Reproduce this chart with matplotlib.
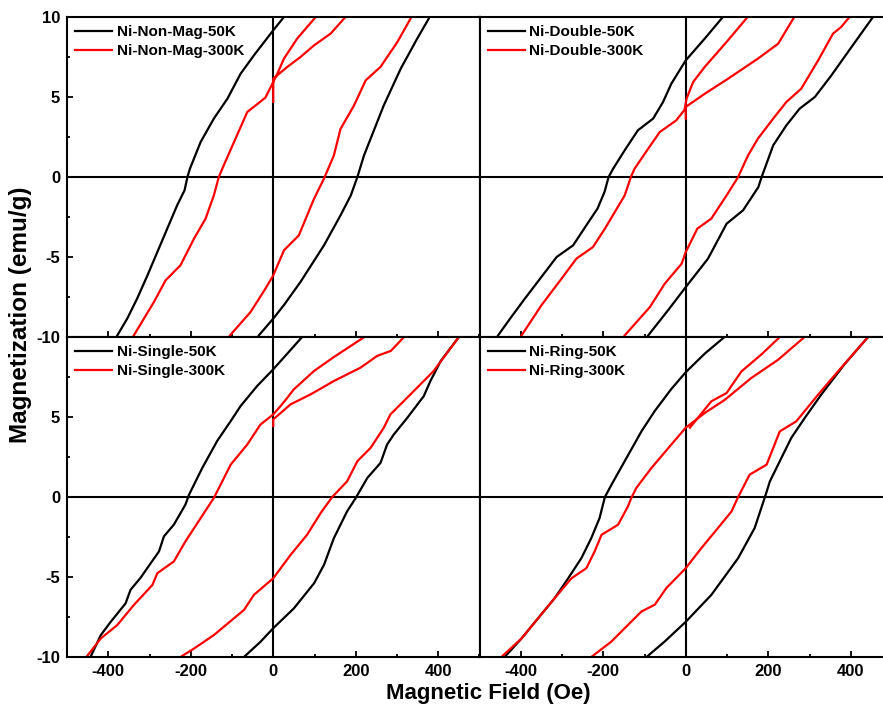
import numpy as np
import matplotlib
matplotlib.use("Agg")
import matplotlib.pyplot as plt
from matplotlib.ticker import MultipleLocator

plt.rcParams["font.family"] = ["Liberation Sans", "DejaVu Sans"]
plt.rcParams["font.weight"] = "bold"
plt.rcParams["axes.unicode_minus"] = False

nan = np.nan

# ---- Ni-Non-Mag ---------------------------------------------------------
nonmag_50k_x = [26, 0, -47, -79, -111, -144, -176, -202, -208, -215, -233, -257, -281, -305, -330, -354, -378,
                nan,
                -35, 0, 26, 66, 123, 163, 188, 204, 220, 268, 309, 349, 377]
nonmag_50k_y = [10, 9.17, 7.6, 6.46, 4.9, 3.65, 2.19, 0.52, 0, -0.83, -1.77, -3.23, -4.69, -6.15, -7.6, -8.85, -9.9,
                nan,
                -9.9, -8.85, -8.0, -6.56, -4.27, -2.4, -1.15, 0, 1.35, 4.48, 6.77, 8.65, 9.9]
nonmag_300k_x = [0, 0, 34, 66, 99, 139, 175,
                 nan,
                 103, 58, 26, 10, 0, -19, -63, -95, -120, -132, -144, -164, -192, -225, -261, -289, -338,
                 nan,
                 -105, -55, -19, 0, 26, 62, 99, 123, 147, 163, 196, 224, 260, 301, 335]
nonmag_300k_y = [4.69, 6.15, 6.88, 7.5, 8.23, 8.96, 10,
                 nan,
                 10, 8.65, 7.4, 6.46, 5.94, 4.96, 4.06, 2.19, 0.73, 0, -1.15, -2.6, -3.85, -5.52, -6.46, -7.8, -9.9,
                 nan,
                 -9.9, -8.44, -6.98, -6.15, -4.58, -3.65, -1.35, -0.1, 1.35, 3.0, 4.48, 6.04, 6.88, 8.44, 10]

# ---- Ni-Double ----------------------------------------------------------
double_50k_x = [90, 46, 0, -35, -55, -79, -116, -148, -176, -187, -197, -214, -241, -273, -313, -350, -390, -423, -455,
                nan,
                -91, -43, 0, 54, 99, 139, 176, 184, 212, 244, 276, 313, 353, 402, 454]
double_50k_y = [10, 8.65, 7.29, 5.83, 4.69, 3.65, 2.92, 1.67, 0.52, 0, -0.94, -1.98, -3.02, -4.27, -5.0, -6.25, -7.6, -8.75, -9.9,
                nan,
                -9.9, -8.33, -6.88, -5.1, -2.92, -2.08, -0.63, 0, 1.98, 3.23, 4.27, 5.0, 6.35, 8.13, 10]
double_300k_x = [0, 0, 46, 103, 175, 224, 263,
                 nan,
                 150, 99, 46, 18, 2, -3, -23, -63, -91, -124, -133, -148, -172, -196, -225, -265, -301, -350, -398,
                 nan,
                 -148, -87, -51, -10, 0, 28, 62, 99, 127, 151, 175, 212, 244, 280, 321, 357, 377, 397]
double_300k_y = [3.65, 4.38, 5.2, 6.15, 7.4, 8.33, 10,
                 nan,
                 10, 8.44, 6.88, 5.94, 4.9, 4.2, 3.54, 2.81, 1.77, 0.52, 0, -1.15, -2.19, -3.23, -4.38, -5.1, -6.35, -8.02, -9.9,
                 nan,
                 -9.9, -8.13, -6.67, -5.42, -4.69, -3.23, -2.6, -1.15, 0, 1.35, 2.4, 3.65, 4.69, 5.52, 7.29, 8.96, 9.38, 10]

# ---- Ni-Single ----------------------------------------------------------
single_50k_x = [70, 34, 0, -39, -79, -103, -136, -172, -204, -213, -241, -265, -277, -322, -346, -358, -394, -418, -443,
                nan,
                -71, -31, 0, 50, 99, 123, 147, 179, 200, 228, 260, 276, 292, 325, 365, 381, 406, 450]
single_50k_y = [10, 8.96, 7.98, 6.94, 5.69, 4.75, 3.5, 1.82, 0.15, -0.48, -1.73, -2.46, -3.4, -5.06, -5.8, -6.65, -7.8, -8.63, -10,
                nan,
                -10, -9.05, -8.2, -6.96, -5.39, -4.24, -2.57, -0.9, -0.06, 1.19, 2.13, 3.28, 3.9, 4.95, 6.31, 7.25, 8.5, 10]
single_300k_x = [0, 0, 42, 91, 147, 212, 252, 285, 317,
                 nan,
                 221, 147, 99, 50, 34, 18, 0, -31, -63, -103, -144, -176, -213, -241, -281, -293, -338, -378, -418, -453,
                 nan,
                 -225, -192, -144, -71, -47, 0, 42, 82, 115, 143, 179, 204, 236, 268, 284, 333, 389, 450]
single_300k_y = [4.43, 4.85, 5.79, 6.42, 7.25, 8.09, 8.82, 9.13, 10,
                 nan,
                 10, 8.75, 7.88, 6.73, 6.2, 5.69, 5.16, 4.53, 3.28, 2.03, -0.06, -1.32, -2.78, -4.03, -4.76, -5.5, -6.75, -8.0, -8.84, -10,
                 nan,
                 -10, -9.47, -8.63, -7.06, -6.12, -5.08, -3.62, -2.36, -1.0, 0, 0.98, 2.24, 3.07, 4.33, 5.16, 6.42, 7.88, 10]

# ---- Ni-Ring ------------------------------------------------------------
ring_50k_x = [94, 46, 0, -35, -75, -107, -148, -180, -196, -209, -229, -253, -285, -318, -358, -398, -439,
              nan,
              -95, -51, 0, 62, 127, 167, 192, 204, 232, 256, 289, 329, 385, 442]
ring_50k_y = [10, 8.96, 7.8, 6.75, 5.38, 4.12, 2.24, 0.77, 0, -1.32, -2.57, -3.82, -5.08, -6.33, -7.58, -8.84, -10,
              nan,
              -10, -9.03, -7.8, -6.12, -3.82, -1.94, 0, 0.98, 2.45, 3.7, 4.96, 6.42, 8.3, 10]
ring_300k_x = [10, 62, 99, 135, 183, 228,
               nan,
               288, 224, 159, 95, 46, 0, -35, -83, -120, -132, -140, -164, -204, -221, -241, -277, -318, -358, -398, -447,
               nan,
               -229, -180, -148, -107, -75, -47, 0, 38, 78, 111, 127, 155, 196, 228, 268, 321, 369, 442]
ring_300k_y = [4.33, 5.98, 6.5, 7.85, 8.9, 10,
               nan,
               10, 8.58, 7.44, 6.08, 5.25, 4.33, 3.28, 1.82, 0.56, -0.06, -0.58, -1.73, -2.36, -3.41, -4.45, -5.08, -6.33, -7.58, -8.84, -10,
               nan,
               -10, -9.03, -8.2, -7.15, -6.73, -5.69, -4.45, -3.19, -1.94, -0.9, 0, 1.4, 2.02, 4.1, 4.73, 6.4, 7.85, 10]

panel_names = ["Ni-Non-Mag", "Ni-Double", "Ni-Single", "Ni-Ring"]
series_50k = [(nonmag_50k_x, nonmag_50k_y), (double_50k_x, double_50k_y),
              (single_50k_x, single_50k_y), (ring_50k_x, ring_50k_y)]
series_300k = [(nonmag_300k_x, nonmag_300k_y), (double_300k_x, double_300k_y),
               (single_300k_x, single_300k_y), (ring_300k_x, ring_300k_y)]

W, H = 883, 704
fig = plt.figure(figsize=(W / 100, H / 100), dpi=100)

# panel boxes in pixels: left, top (the right column runs a bit past the edge, as in the source)
pw, ph = 412.5, 320
boxes = [(67, 17), (479.5, 17), (67, 337), (479.5, 337)]

for i, (left, top) in enumerate(boxes):
    ax = fig.add_axes([left / W, 1 - (top + ph) / H, pw / W, ph / H])
    x50, y50 = series_50k[i]
    x300, y300 = series_300k[i]
    ax.plot(x50, y50, color="black", lw=1.6, label=panel_names[i] + "-50K")
    ax.plot(x300, y300, color="red", lw=1.6, label=panel_names[i] + "-300K")
    ax.axhline(0, color="black", lw=1.5, zorder=0)
    ax.axvline(0, color="black", lw=1.5, zorder=0)
    ax.set_xlim(-500, 500)
    ax.set_ylim(-10, 10)
    ax.xaxis.set_major_locator(MultipleLocator(200))
    ax.xaxis.set_minor_locator(MultipleLocator(100))
    ax.yaxis.set_major_locator(MultipleLocator(5))
    ax.yaxis.set_minor_locator(MultipleLocator(2.5))
    ax.tick_params(which="both", direction="in", top=False, right=False,
                   labelsize=12, width=1.3, pad=5)
    ax.tick_params(which="major", length=4)
    ax.tick_params(which="minor", length=2.5)
    for sp in ax.spines.values():
        sp.set_linewidth(1.5)
    if i in (1, 3):
        ax.tick_params(axis="y", which="both", left=False, labelleft=False)
    if i in (0, 1):
        ax.tick_params(axis="x", labelbottom=False)
    if i == 2:
        ax.set_yticks([-10, -5, 0, 5])
    for lab in ax.get_xticklabels() + ax.get_yticklabels():
        lab.set_fontweight("bold")
    ax.legend(loc="upper left", frameon=False, handlelength=2.4,
              handletextpad=0.3, labelspacing=0.3, borderaxespad=0.25,
              borderpad=0.3, prop={"weight": "bold", "size": 11})

fig.text(21 / W, 1 - 315 / H, "Magnetization (emu/g)", rotation=90, ha="center", va="center",
         fontsize=17.5, fontweight="bold")
fig.text(488 / W, 1 - 693 / H, "Magnetic Field (Oe)", ha="center", va="center",
         fontsize=16, fontweight="bold")

fig.savefig("out.png", dpi=100)
